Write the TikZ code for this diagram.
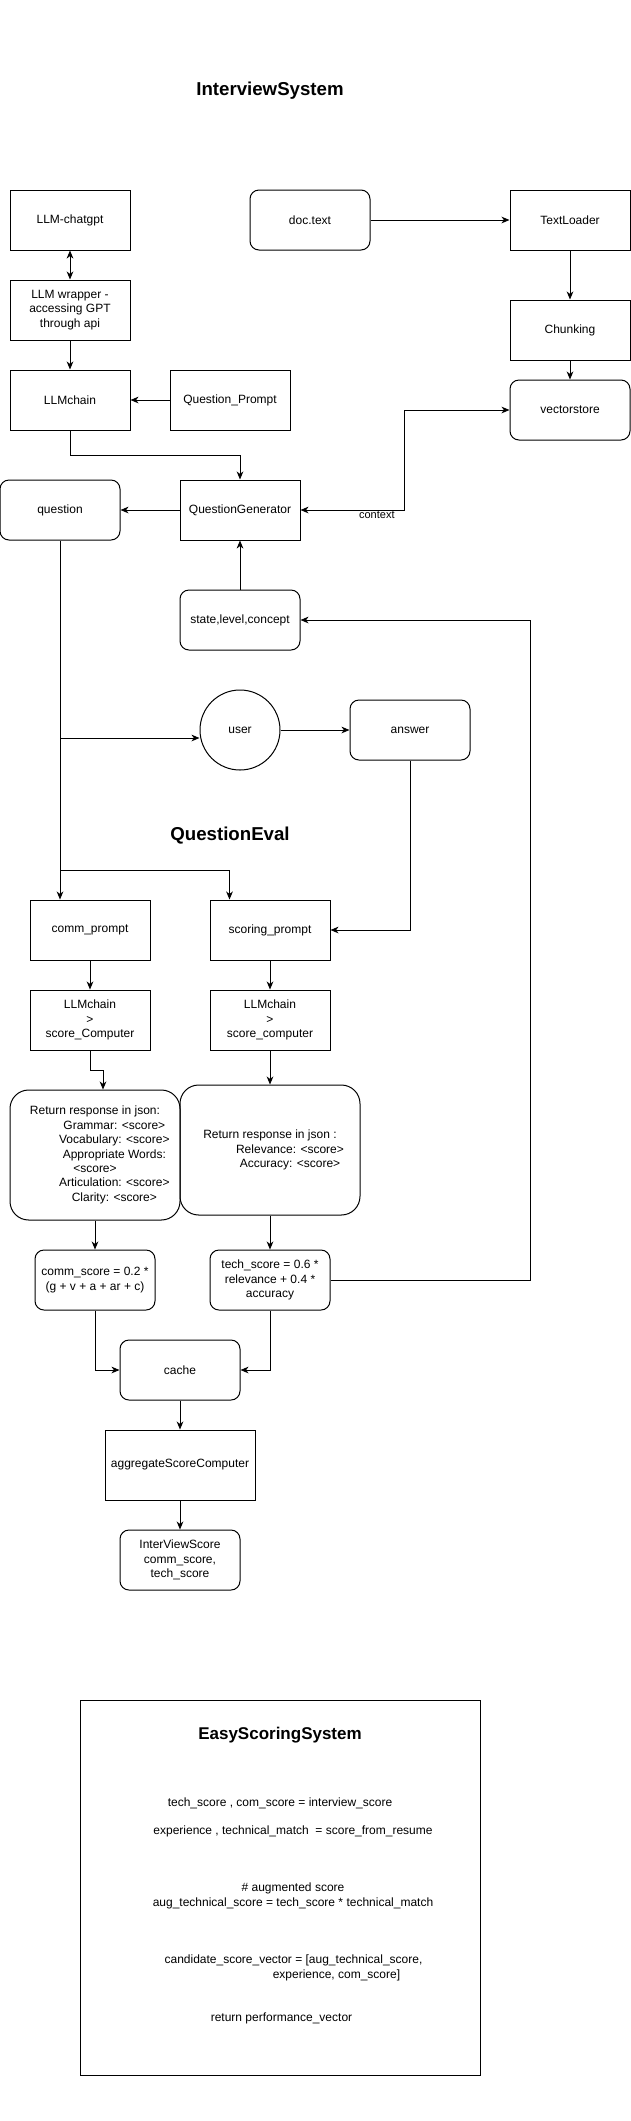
\documentclass[tikz,border=0pt]{standalone}
\usepackage{fontspec}
\setmainfont{Liberation Sans}
\usepackage{tikz}
\usetikzlibrary{arrows.meta}
\tikzset{>={Stealth[length=6pt,width=5pt,inset=1.8pt]}}
\tikzset{%
    box/.style={draw, line width=0.75pt, minimum width=90pt, minimum height=45pt,
        inner sep=1pt, align=center, font=\fontsize{9}{10.8}\selectfont},
    rbox/.style={box, rounded corners=6.75pt},
    jsonbox/.style={box, rounded corners=14pt, minimum height=97.5pt},
    usernode/.style={circle, draw, line width=0.75pt, minimum size=60pt, inner sep=0pt,
        font=\fontsize{9}{10.8}\selectfont},
    heading/.style={inner sep=0pt, font=\fontsize{14}{17}\selectfont\bfseries},
    plain/.style={inner sep=0pt, align=center, font=\fontsize{9}{10.8}\selectfont},
    link/.style={line width=0.75pt}
}

\begin{document}
\begin{tikzpicture}[x=0.75pt,y=-0.75pt]
\useasboundingbox (0,0) rectangle (631,2121);

\node[heading] (ivtitle) at (270,91) {InterviewSystem};

\node[box] (chatgpt) at (70,220) {LLM-chatgpt};
\node[box] (wrapper) at (70,310) {LLM wrapper -\\accessing GPT\\through api};
\node[box] (llmchain) at (70,400) {LLMchain};
\node[box] (qprompt) at (230,400) {Question\_Prompt};
\node[rbox] (doctext) at (310,220) {doc.text};
\node[box] (textloader) at (570,220) {TextLoader};
\node[box] (chunking) at (570,330) {Chunking};
\node[rbox] (vectorstore) at (570,410) {vectorstore};
\node[box] (qgen) at (240,510) {QuestionGenerator};
\node[rbox] (question) at (60,510) {question};
\node[rbox] (state) at (240,620) {state,level,concept};
\node[usernode] (user) at (240,730) {user};
\node[rbox] (answer) at (410,730) {answer};

\node[heading] (evaltitle) at (230,836) {QuestionEval};

\node[box] (commprompt) at (90,930) {comm\_prompt};
\node[box] (scoringprompt) at (270,930) {scoring\_prompt};
\node[box] (chainA) at (90,1020) {LLMchain\\>\\score\_Computer};
\node[box] (chainB) at (270,1020) {LLMchain\\>\\score\_computer};
\node[jsonbox, minimum width=127.5pt] (jsonA) at (95,1155) {Return response in json:\\
    \hspace*{29pt}Grammar: <score>\\
    \hspace*{29pt}Vocabulary: <score>\\
    \hspace*{29pt}Appropriate Words:\\
    <score>\\
    \hspace*{29pt}Articulation: <score>\\
    \hspace*{29pt}Clarity: <score>};
\node[jsonbox, minimum width=135pt] (jsonB) at (270,1150) {Return response in json :\\
    \hspace*{30pt}Relevance: <score>\\
    \hspace*{30pt}Accuracy: <score>};
\node[rbox] (commscore) at (95,1280) {comm\_score = 0.2 *\\(g + v + a + ar + c)};
\node[rbox] (techscore) at (270,1280) {tech\_score = 0.6 *\\relevance + 0.4 *\\accuracy};
\node[rbox] (cache) at (180,1370) {cache};
\node[box, minimum width=112.5pt, minimum height=52.5pt] (aggregate) at (180,1465) {aggregateScoreComputer};
\node[rbox] (ivscore) at (180,1560) {InterViewScore\\comm\_score,\\tech\_score};

\draw[link,<->] (chatgpt) -- (wrapper);
\draw[link,->] (wrapper) -- (llmchain);
\draw[link,->] (qprompt) -- (llmchain);
\draw[link,->] (llmchain.south) -- ++(0,25) -| (qgen.north);
\draw[link,->] (doctext) -- (textloader);
\draw[link,->] (textloader) -- (chunking);
\draw[link,->] (chunking) -- (vectorstore);
\draw[link,<->] (vectorstore.west) -- ++(-105,0) |- (qgen.east)
    node[pos=0.633, anchor=north, fill=white, inner sep=0.6pt, font=\fontsize{8.25}{10}\selectfont] {context};
\draw[link,->] (qgen) -- (question);
\draw[link,->] (state) -- (qgen);

\coordinate (tap1) at (60,738);
\coordinate (tap2) at (60,870);
\draw[link,->] (question.south) -- (question.south |- commprompt.north);
\draw[link,->] (tap1) -- (tap1 -| user.west);
\draw[link,->] (tap2) -| ([xshift=15pt]scoringprompt.north west);
\draw[link,->] (user) -- (answer);
\draw[link,->] (answer.south) |- (scoringprompt.east);

\draw[link,->] (commprompt) -- (chainA);
\draw[link,->] (scoringprompt) -- (chainB);
\draw[link,->] (chainA.south) -- ++(0,20) -| ([xshift=6pt]jsonA.north);
\draw[link,->] (chainB) -- (jsonB);
\draw[link,->] (jsonA) -- (commscore);
\draw[link,->] (jsonB) -- (techscore);
\draw[link,->] (techscore.east) -- ++(200,0) |- (state.east);
\draw[link,->] (commscore.south) |- (cache.west);
\draw[link,->] (techscore.south) |- (cache.east);
\draw[link,->] (cache) -- (aggregate);
\draw[link,->] (aggregate) -- (ivscore);

\node[draw, line width=0.75pt, minimum width=300pt, minimum height=281.25pt] (easybox) at (280.3,1887.5) {};
\node[inner sep=0pt, font=\fontsize{12.75}{15}\selectfont\bfseries] (easytitle) at (280,1735) {EasyScoringSystem};
\node[plain] (unpack) at (280,1803) {tech\_score , com\_score = interview\_score};
\node[plain] (resume) at (293,1831) {experience , technical\_match \ = score\_from\_resume};
\node[plain] (augment) at (293,1896) {\# augmented score\\aug\_technical\_score = tech\_score * technical\_match};
\node[plain] (vector) at (293.5,1968) {candidate\_score\_vector = [aug\_technical\_score,\\\hspace*{64.5pt}experience, com\_score]};
\node[plain] (ret) at (281.5,2018) {return performance\_vector};
\end{tikzpicture}
\end{document}
